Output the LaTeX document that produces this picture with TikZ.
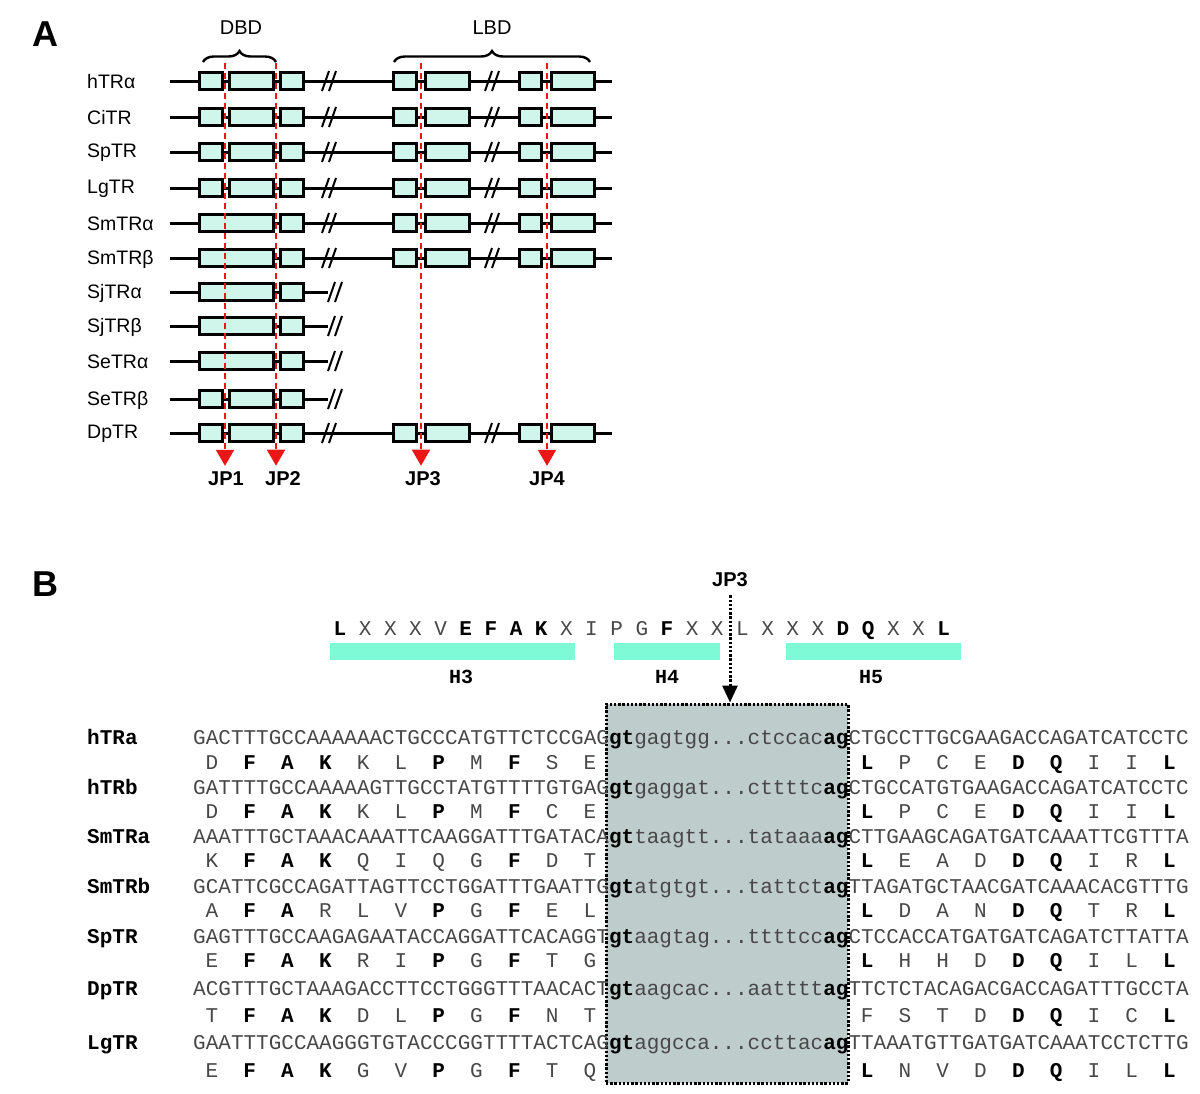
\documentclass[tikz,border=0pt]{standalone}
\usepackage{fontspec}
\setmainfont{Liberation Sans}
\setmonofont{Liberation Mono}
\usetikzlibrary{arrows.meta,decorations.pathreplacing,positioning}

\definecolor{exonfill}{RGB}{208,245,234}
\definecolor{helixfill}{RGB}{127,250,214}
\definecolor{intronfill}{RGB}{190,205,203}
\definecolor{jpred}{RGB}{235,22,22}
\newcommand{\consv}[1]{\textcolor{black}{\bfseries #1}}
\newcommand{\intdots}{...}

\begin{document}
\begin{tikzpicture}[x=1pt, y=-1pt,
    panel/.style={font=\fontsize{36}{40}\selectfont\bfseries, inner sep=0pt},
    domainname/.style={font=\fontsize{20}{24}\selectfont, inner sep=0pt},
    rowlabel/.style={font=\fontsize{19.5}{22}\selectfont, anchor=west, inner sep=0pt},
    jplabel/.style={font=\fontsize{20}{24}\selectfont\bfseries, inner sep=0pt},
    gene/.style={line width=3pt},
    exon/.style={draw, line width=3pt, fill=exonfill},
    cut/.style={line width=2pt},
    domainbrace/.style={decorate, decoration={brace, amplitude=11pt}, line width=2.4pt},
    jpline/.style={draw=jpred, line width=2pt, dash pattern=on 6pt off 4pt, shorten >=6pt, -{Triangle[width=18pt, length=16pt]}},
    intronbox/.style={draw, fill=intronfill, line width=3pt, dash pattern=on 2.4pt off 1.8pt, minimum width=242pt, minimum height=379pt, inner sep=0pt},
    dotarrow/.style={line width=3pt, dash pattern=on 2.4pt off 1.8pt, shorten <=8pt, -{Triangle[width=15pt, length=17pt]}},
    helix/.style={fill=helixfill},
    helixlabel/.style={font=\fontsize{20}{24}\selectfont\ttfamily\bfseries, inner sep=0pt},
    seqname/.style={font=\fontsize{21}{24}\selectfont\ttfamily\bfseries, anchor=base west, inner sep=0pt},
    seq/.style={font=\fontsize{21}{24}\selectfont\ttfamily, text=black!72, anchor=base west, inner sep=0pt},
    res/.style={font=\fontsize{21}{24}\selectfont\ttfamily, text=black!72, anchor=base, inner sep=0pt}
  ]
  \useasboundingbox (0,0) rectangle (1200,1093);

  \node[panel] (pA) at (45,34) {A};
  \node[domainname] (dbd) at (241,28) {DBD};
  \node[domainname] (lbd) at (492,28) {LBD};
  \coordinate (dbdL) at (203,62);
  \coordinate (dbdR) at (276,62);
  \coordinate (lbdL) at (394,62);
  \coordinate (lbdR) at (590,62);
  \draw[domainbrace] (dbdL) -- (dbdR);
  \draw[domainbrace] (lbdL) -- (lbdR);

  \foreach \y/\lab in {81/hTRα, 117/CiTR, 152/SpTR, 188/LgTR, 223/SmTRα, 258/SmTRβ, 292/SjTRα, 326/SjTRβ, 361/SeTRα, 399/SeTRβ, 433/DpTR}
    \node[rowlabel] (row\y) at (87,\y+1) {\lab};

  \foreach \y in {81,117,152,188,223,258,433} {
    \draw[gene] (170,\y) -- (612,\y);
    \draw[cut] (322,\y+10) -- (329,\y-10) (329,\y+10) -- (336,\y-10);
    \draw[cut] (485,\y+10) -- (492,\y-10) (492,\y+10) -- (499,\y-10);
    \draw[exon] (393,\y-8.5) rectangle (416,\y+8.5);
    \draw[exon] (425,\y-8.5) rectangle (469,\y+8.5);
    \draw[exon] (519,\y-8.5) rectangle (541,\y+8.5);
    \draw[exon] (551,\y-8.5) rectangle (594,\y+8.5);
  }
  \foreach \y in {292,326,361,399} {
    \draw[gene] (170,\y) -- (328,\y);
    \draw[cut] (328,\y+10) -- (335,\y-10) (335,\y+10) -- (342,\y-10);
  }
  \foreach \y in {81,117,152,188,399,433} {
    \draw[exon] (199,\y-8.5) rectangle (222,\y+8.5);
    \draw[exon] (229,\y-8.5) rectangle (273,\y+8.5);
  }
  \foreach \y in {223,258,292,326,361}
    \draw[exon] (199,\y-8.5) rectangle (273,\y+8.5);
  \foreach \y in {81,117,152,188,223,258,292,326,361,399,433}
    \draw[exon] (280,\y-8.5) rectangle (303,\y+8.5);

  \foreach \x/\lx/\n in {225/226/1, 276/283/2, 421/423/3, 547/547/4} {
    \coordinate (jptop\n) at (\x,63);
    \node[jplabel] (jp\n) at (\lx,479) {JP\n};
    \draw[jpline] (jptop\n) -- (jptop\n |- jp\n.north);
  }

  \node[panel] (pB) at (45,584) {B};
  \node[intronbox] (intron) at (727,893.5) {};
  \node[jplabel] (jp3b) at (730,580) {JP3};
  \draw[dotarrow] (jp3b.south) -- (jp3b.south |- intron.north);

  \foreach \r [count=\i from 0] in {\consv L,X,X,X,V,\consv E,\consv F,\consv A,\consv K,X,I,P,G,\consv F,X,X,L,X,X,X,\consv D,\consv Q,X,X,\consv L}
    \node[res] (motif\i) at ({340+25.15*\i},635) {\r};

  \fill[helix] (330,643) rectangle (575,660);
  \fill[helix] (614,643) rectangle (720,660);
  \fill[helix] (786,643) rectangle (961,660);
  \node[helixlabel] (h3) at (461,677) {H3};
  \node[helixlabel] (h4) at (667,677) {H4};
  \node[helixlabel] (h5) at (871,677) {H5};

  \foreach \y/\nm/\exA/\intr/\exB in {
      744/hTRa/GACTTTGCCAAAAAACTGCCCATGTTCTCCGAG/gagtgg\intdots ctccac/CTGCCTTGCGAAGACCAGATCATCCTC,
      794/hTRb/GATTTTGCCAAAAAGTTGCCTATGTTTTGTGAG/gaggat\intdots cttttc/CTGCCATGTGAAGACCAGATCATCCTC,
      843/SmTRa/AAATTTGCTAAACAAATTCAAGGATTTGATACA/taagtt\intdots tataaa/CTTGAAGCAGATGATCAAATTCGTTTA,
      893/SmTRb/GCATTCGCCAGATTAGTTCCTGGATTTGAATTG/atgtgt\intdots tattct/TTAGATGCTAACGATCAAACACGTTTG,
      943/SpTR/GAGTTTGCCAAGAGAATACCAGGATTCACAGGT/aagtag\intdots ttttcc/CTCCACCATGATGATCAGATCTTATTA,
      995/DpTR/ACGTTTGCTAAAGACCTTCCTGGGTTTAACACT/aagcac\intdots aatttt/TTCTCTACAGACGACCAGATTTGCCTA,
      1049/LgTR/GAATTTGCCAAGGGTGTACCCGGTTTTACTCAG/aggcca\intdots ccttac/TTAAATGTTGATGATCAAATCCTCTTG} {
    \node[seqname] (name-\nm) at (87,\y) {\nm};
    \node[seq] (seq-\nm) at (193,\y) {\exA\consv{gt}\intr\consv{ag}\exB};
  }

  \foreach \y/\lres/\rres in {
      769/{D,\consv F,\consv A,\consv K,K,L,\consv P,M,\consv F,S,E}/{\consv L,P,C,E,\consv D,\consv Q,I,I,\consv L},
      818/{D,\consv F,\consv A,\consv K,K,L,\consv P,M,\consv F,C,E}/{\consv L,P,C,E,\consv D,\consv Q,I,I,\consv L},
      867/{K,\consv F,\consv A,\consv K,Q,I,Q,G,\consv F,D,T}/{\consv L,E,A,D,\consv D,\consv Q,I,R,\consv L},
      917/{A,\consv F,\consv A,R,L,V,\consv P,G,\consv F,E,L}/{\consv L,D,A,N,\consv D,\consv Q,T,R,\consv L},
      967/{E,\consv F,\consv A,\consv K,R,I,\consv P,G,\consv F,T,G}/{\consv L,H,H,D,\consv D,\consv Q,I,L,\consv L},
      1022/{T,\consv F,\consv A,\consv K,D,L,\consv P,G,\consv F,N,T}/{F,S,T,D,\consv D,\consv Q,I,C,\consv L},
      1077/{E,\consv F,\consv A,\consv K,G,V,\consv P,G,\consv F,T,Q}/{\consv L,N,V,D,\consv D,\consv Q,I,L,\consv L}} {
    \foreach \r [count=\i from 0] in \lres
      \node[res] (left\y-\i) at ({193+(3*\i+1.5)*12.6},\y) {\r};
    \foreach \r [count=\i from 0] in \rres
      \node[res] (right\y-\i) at ({848.2+(3*\i+1.5)*12.6},\y) {\r};
  }
\end{tikzpicture}
\end{document}
